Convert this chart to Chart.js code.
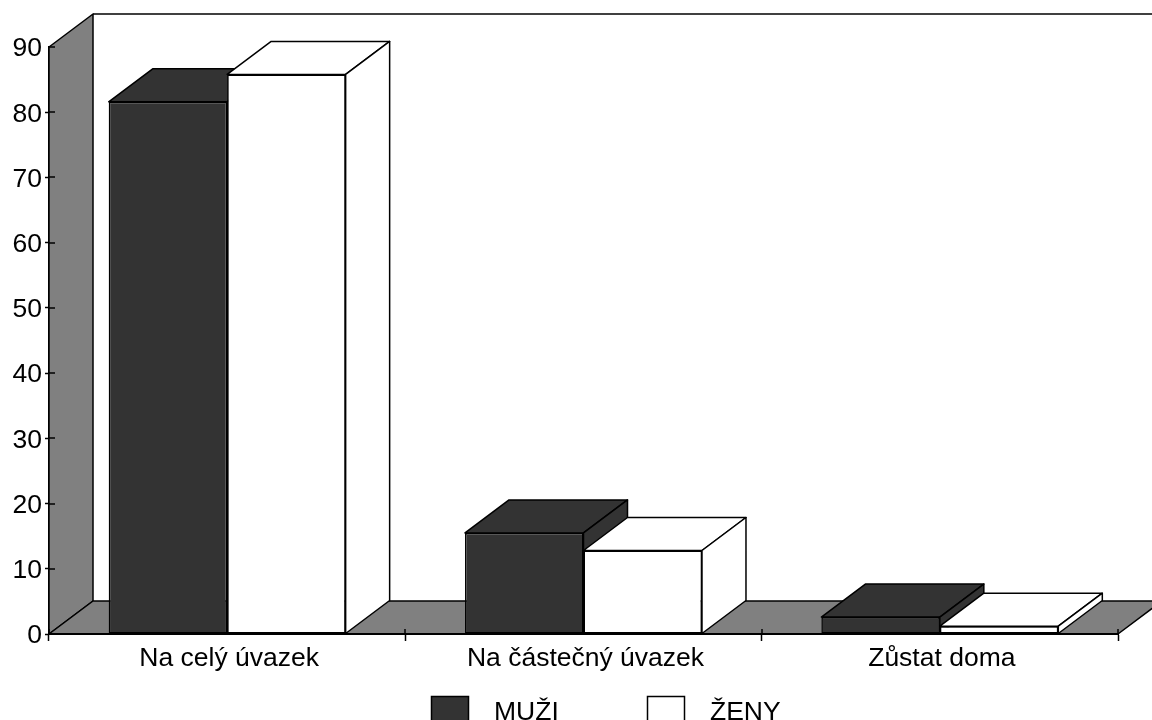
<!DOCTYPE html>
<html>
<head>
<meta charset="utf-8">
<style>
html,body{margin:0;padding:0;background:#fff;overflow:hidden}
#wrap{width:1152px;height:720px;position:relative}
canvas{display:block}
</style>
<script src="https://cdn.jsdelivr.net/npm/chart.js@4"></script>
</head>
<body>
<div id="wrap"><canvas id="c" width="1152" height="720"></canvas></div>
<script>
const categories = ["Na celý úvazek", "Na částečný úvazek", "Zůstat doma"];
const muzi = [81.6, 15.5, 2.6];
const zeny = [85.8, 12.8, 1.2];
const seriesNames = ["MUŽI", "ŽENY"];
const yMax = 90;
const yStep = 10;

const DX = 44, DY = 33, LW = 1.5;
const DARK = "#333333", GREY = "#808080", FONT = "Liberation Sans", SIZE = 26.5;

function poly(ctx, pts, fill) {
  ctx.beginPath();
  pts.forEach((p, i) => i ? ctx.lineTo(p[0], p[1]) : ctx.moveTo(p[0], p[1]));
  ctx.closePath();
  if (fill) { ctx.fillStyle = fill; ctx.fill(); }
  ctx.stroke();
}

const threeD = {
  id: "threeD",
  beforeDatasetsDraw(chart) {
    const {ctx, chartArea: a} = chart;
    ctx.save();
    ctx.strokeStyle = "#000"; ctx.lineWidth = LW; ctx.lineJoin = "round";
    // back wall top edge
    ctx.beginPath(); ctx.moveTo(a.left + DX, a.top - DY); ctx.lineTo(1152, a.top - DY); ctx.stroke();
    // side wall
    poly(ctx, [[a.left, a.top], [a.left + DX, a.top - DY], [a.left + DX, a.bottom - DY], [a.left, a.bottom]], GREY);
    // floor
    poly(ctx, [[a.left, a.bottom], [a.left + DX, a.bottom - DY], [a.right + DX, a.bottom - DY], [a.right, a.bottom]], GREY);
    // bars: first series first, second series over it, each with its depth faces
    chart.data.datasets.forEach((ds, i) => {
      const meta = chart.getDatasetMeta(i);
      meta.data.forEach(bar => {
        const l = bar.x - bar.width / 2, r = bar.x + bar.width / 2, y = bar.y, b = bar.base;
        poly(ctx, [[l, y], [l + DX, y - DY], [r + DX, y - DY], [r, y]], ds.backgroundColor);
        poly(ctx, [[r, y], [r + DX, y - DY], [r + DX, b - DY], [r, b]], ds.backgroundColor);
      });
      meta.controller.draw();
    });
    ctx.restore();
    return false;
  },
  afterDraw(chart) {
    const {ctx, scales: {y}, chartArea: a} = chart;
    ctx.save();
    ctx.strokeStyle = "#000"; ctx.lineWidth = LW;
    // inner halves of the tick marks
    ctx.beginPath();
    y.ticks.forEach(t => {
      const p = Math.round(y.getPixelForValue(t.value));
      ctx.moveTo(a.left, p); ctx.lineTo(a.left + 6, p);
    });
    const w = (a.right - a.left) / categories.length;
    for (let i = 0; i <= categories.length; i++) {
      const p = Math.round(a.left + i * w);
      ctx.moveTo(p, a.bottom); ctx.lineTo(p, a.bottom - 5);
    }
    ctx.stroke();
    // legend
    const boxX = [431, 647], textX = [494, 710];
    chart.data.datasets.forEach((ds, i) => {
      ctx.fillStyle = ds.backgroundColor;
      ctx.fillRect(boxX[i] + 0.5, 696.5, 37, 40);
      ctx.strokeRect(boxX[i] + 0.5, 696.5, 37, 40);
      ctx.fillStyle = "#000";
      ctx.font = SIZE + "px '" + FONT + "'";
      ctx.textAlign = "left"; ctx.textBaseline = "alphabetic";
      ctx.fillText(ds.label, textX[i], 720);
    });
    ctx.restore();
  }
};

new Chart(document.getElementById("c"), {
  type: "bar",
  data: {
    labels: categories,
    datasets: [
      {label: seriesNames[0], data: muzi, backgroundColor: DARK, borderColor: "#000", borderWidth: LW, borderSkipped: false},
      {label: seriesNames[1], data: zeny, backgroundColor: "#ffffff", borderColor: "#000", borderWidth: LW, borderSkipped: false}
    ]
  },
  plugins: [threeD],
  options: {
    responsive: false,
    animation: false,
    layout: {padding: {left: 0, right: 34, top: 47, bottom: 0}},
    plugins: {legend: {display: false}, title: {display: false}, tooltip: {enabled: false}},
    datasets: {bar: {categoryPercentage: 0.665, barPercentage: 1}},
    scales: {
      x: {
        type: "category",
        offset: true,
        afterFit(s) { s.height = 86; },
        grid: {offset: true, drawOnChartArea: false, tickLength: 7, tickColor: "#000", tickWidth: LW, z: 1},
        border: {color: "#000", width: 2, z: 1},
        ticks: {color: "#000", font: {family: FONT, size: SIZE}, padding: 2, labelOffset: 2, maxRotation: 0}
      },
      y: {
        min: 0, max: yMax,
        afterFit(s) { s.width = 49; },
        grid: {drawOnChartArea: false, tickLength: 4, tickWidth: LW, tickColor: c => c.tick && c.tick.value === yMax ? "transparent" : "#000"},
        border: {color: "#000", width: LW},
        ticks: {stepSize: yStep, color: "#000", font: {family: FONT, size: SIZE}, padding: 3, labelOffset: 2}
      }
    }
  }
});
</script>
</body>
</html>
